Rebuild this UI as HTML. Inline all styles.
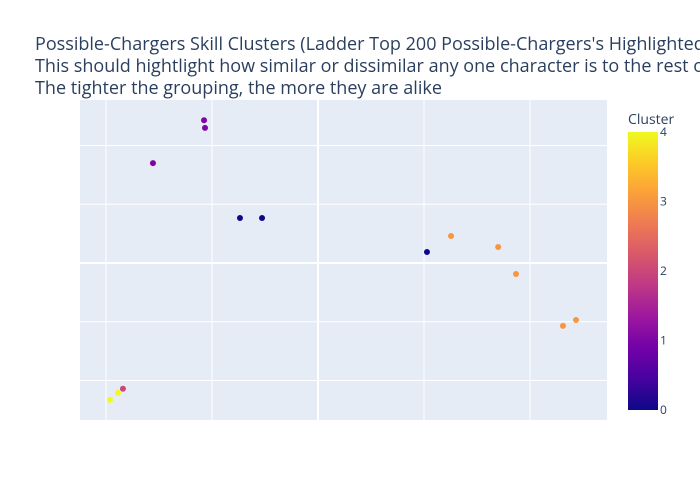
<!DOCTYPE html>
<html><head><meta charset="utf-8">
<style>
html,body{margin:0;padding:0;width:700px;height:500px;overflow:hidden;background:#fff;}
svg{display:block;font-family:"Open Sans","Liberation Sans",sans-serif;}
</style></head>
<body>
<svg id="chart" width="700" height="500" viewBox="0 0 700 500" xmlns="http://www.w3.org/2000/svg">
  <defs>
    <linearGradient id="plasma" x1="0" y1="1" x2="0" y2="0">
      <stop offset="0" stop-color="#0d0887"/>
      <stop offset="0.111" stop-color="#46039f"/>
      <stop offset="0.222" stop-color="#7201a8"/>
      <stop offset="0.333" stop-color="#9c179e"/>
      <stop offset="0.444" stop-color="#bd3786"/>
      <stop offset="0.556" stop-color="#d8576b"/>
      <stop offset="0.667" stop-color="#ed7953"/>
      <stop offset="0.778" stop-color="#fb9f3a"/>
      <stop offset="0.889" stop-color="#fdca26"/>
      <stop offset="1" stop-color="#f0f921"/>
    </linearGradient>
  </defs>
  <g fill="#2a3f5f" font-size="18">
    <text x="35" y="50">Possible-Chargers Skill Clusters (Ladder Top 200 Possible-Chargers's Highlighted)</text>
    <text x="35" y="72">This should hightlight how similar or dissimilar any one character is to the rest of the grouping</text>
    <text x="35" y="94">The tighter the grouping, the more they are alike</text>
  </g>
  <rect x="80" y="100" width="527" height="320" fill="#e5ecf6"/>
  <g id="grid"></g>
  <g id="points"></g>
  <g>
    <text x="628" y="124" font-size="14" fill="#2a3f5f">Cluster</text>
    <rect x="628" y="132" width="30" height="278" fill="url(#plasma)"/>
    <g id="cbticks"></g>
  </g>
</svg>
<script>
const xs = [-1.075,-1.066,-1.557,-0.736,-0.528,1.028,1.255,1.70,1.868,2.311,2.434,-1.84,-1.887,-1.962];
const ys = [2.43,2.30,1.70,0.766,0.766,0.187,0.46,0.272,-0.187,-1.07,-0.97,-2.14,-2.21,-2.33];
const clusters = [1,1,1,0,0,0,3,3,3,3,3,2,4,4];
const xGrid = [-2,-1,0,1,2];
const yGrid = [-2,-1,0,1,2];
const cbTicks = [0,1,2,3,4];

const NS="http://www.w3.org/2000/svg";
const xScale = v => 318 + v*106;
const yScale = v => 263 - v*58.75;
const cbScale = v => 410 - v*(278/4);
const palette = ["#0d0887","#7e03a8","#cc4778","#f89540","#f0f921"];
function mk(tag, attrs){const e=document.createElementNS(NS,tag);for(const k in attrs)e.setAttribute(k,attrs[k]);return e;}

const grid=document.getElementById('grid');
xGrid.forEach(v=>{
  const l=mk('line',{x1:xScale(v),x2:xScale(v),y1:100,y2:420,stroke:'#fff','stroke-width':v===0?2:1});
  
  
  grid.appendChild(l);
});
yGrid.forEach(v=>{
  const l=mk('line',{x1:80,x2:607,y1:yScale(v),y2:yScale(v),stroke:'#fff','stroke-width':v===0?2:1});
  
  
  grid.appendChild(l);
});
const pts=document.getElementById('points');
xs.forEach((x,i)=>{
  const c=mk('circle',{cx:xScale(x),cy:yScale(ys[i]),r:3,fill:palette[clusters[i]]});
  
  
  pts.appendChild(c);
});
const cb=document.getElementById('cbticks');
cbTicks.forEach(v=>{
  const t=mk('text',{x:660,y:cbScale(v)+4,'font-size':12,fill:'#2a3f5f'});
  t.textContent=v;
  
  
  cb.appendChild(t);
});
</script>
</body></html>
